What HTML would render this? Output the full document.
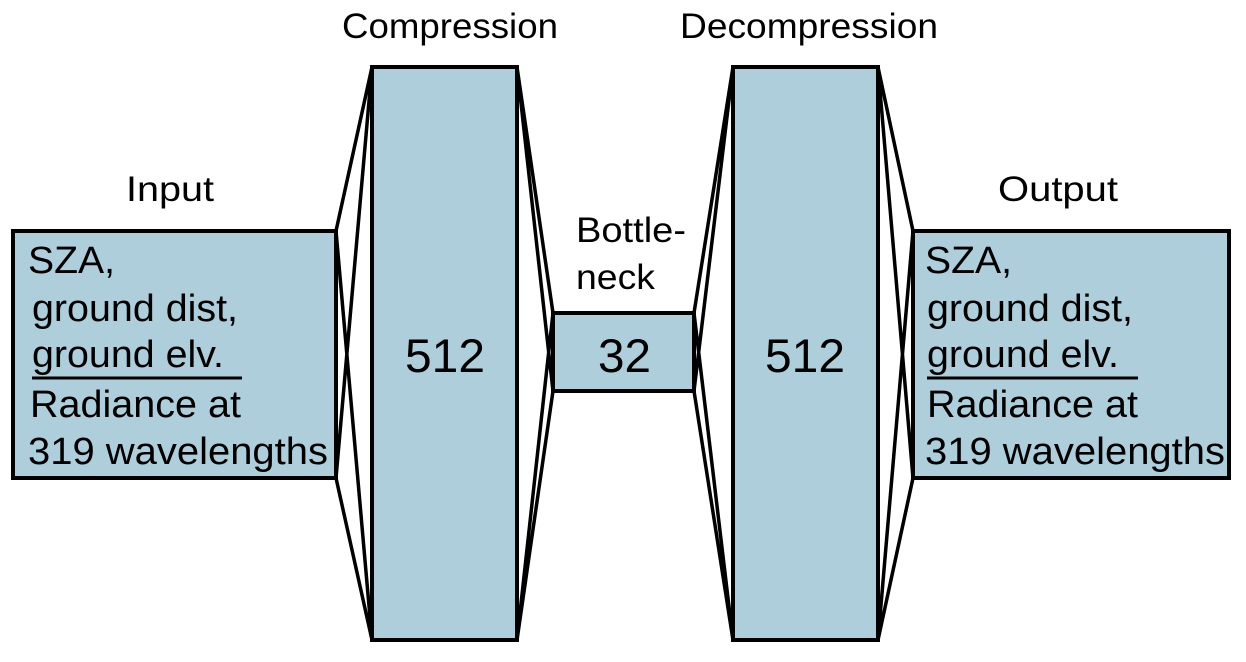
<!DOCTYPE html><html><head><style>body{margin:0;background:#fff}</style></head><body>
<svg width="1246" height="657" xmlns="http://www.w3.org/2000/svg" font-family="Liberation Sans, sans-serif">
<g stroke="#000" stroke-width="3.5" fill="none">
<path d="M336 231L372 67M336 231L372 640M336 478L372 67M336 478L372 640"/>
<path d="M517 67L553 313M517 67L553 391M517 640L553 313M517 640L553 391"/>
<path d="M694 313L733 67M694 313L733 640M694 391L733 67M694 391L733 640"/>
<path d="M878 67L913 231M878 67L913 478M878 640L913 231M878 640L913 478"/>
</g>
<g fill="#afcedb" stroke="#000" stroke-width="4">
<rect x="13" y="231" width="323" height="247"/>
<rect x="372" y="67" width="145" height="573"/>
<rect x="553" y="313" width="141" height="78"/>
<rect x="733" y="67" width="145" height="573"/>
<rect x="913" y="231" width="316" height="247"/>
</g>
<g font-size="35" fill="#000" lengthAdjust="spacingAndGlyphs">
<text x="342" y="38" textLength="216" lengthAdjust="spacingAndGlyphs">Compression</text>
<text x="680" y="38" textLength="258" lengthAdjust="spacingAndGlyphs">Decompression</text>
<text x="126" y="201" textLength="88" lengthAdjust="spacingAndGlyphs">Input</text>
<text x="998" y="201" textLength="120" lengthAdjust="spacingAndGlyphs">Output</text>
<text x="576" y="242" textLength="110" lengthAdjust="spacingAndGlyphs">Bottle-</text>
<text x="576" y="289" textLength="79" lengthAdjust="spacingAndGlyphs">neck</text>
</g>
<g font-size="47">
<text x="405" y="372" textLength="80" lengthAdjust="spacingAndGlyphs">512</text>
<text x="598" y="372" textLength="53" lengthAdjust="spacingAndGlyphs">32</text>
<text x="765" y="372" textLength="80" lengthAdjust="spacingAndGlyphs">512</text>
</g>
<g font-size="38">
<text x="28" y="273" textLength="87" lengthAdjust="spacingAndGlyphs">SZA,</text>
<text x="32" y="321" textLength="206" lengthAdjust="spacingAndGlyphs">ground dist,</text>
<text x="32" y="367" textLength="192" lengthAdjust="spacingAndGlyphs">ground elv.</text>
<text x="30" y="417" textLength="211" lengthAdjust="spacingAndGlyphs">Radiance at</text>
<text x="28" y="464" textLength="300" lengthAdjust="spacingAndGlyphs">319 wavelengths</text>
<text x="925" y="273" textLength="87" lengthAdjust="spacingAndGlyphs">SZA,</text>
<text x="927" y="321" textLength="206" lengthAdjust="spacingAndGlyphs">ground dist,</text>
<text x="927" y="367" textLength="192" lengthAdjust="spacingAndGlyphs">ground elv.</text>
<text x="927" y="417" textLength="211" lengthAdjust="spacingAndGlyphs">Radiance at</text>
<text x="925" y="464" textLength="300" lengthAdjust="spacingAndGlyphs">319 wavelengths</text>
</g>
<path d="M32 378H242M927 378H1138" stroke="#000" stroke-width="3"/>
</svg></body></html>
